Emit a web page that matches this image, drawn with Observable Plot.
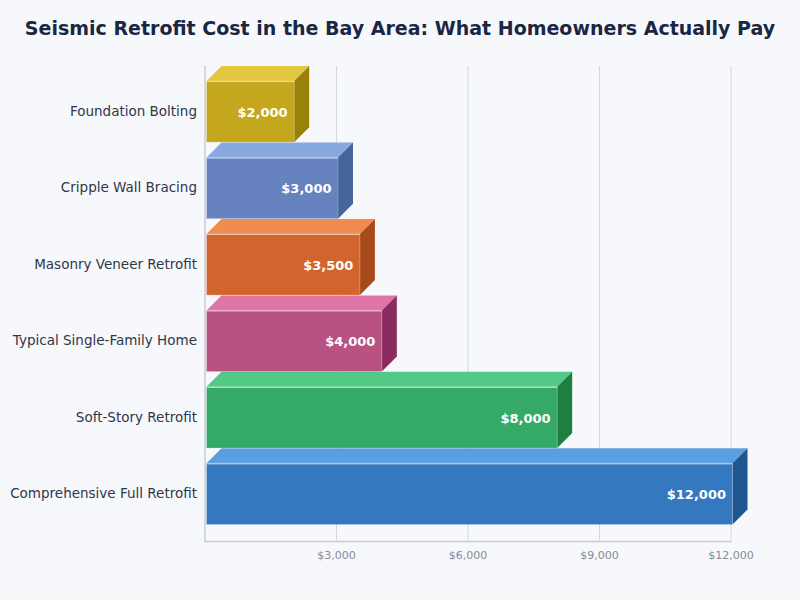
<!DOCTYPE html>
<html>
<head>
<meta charset="utf-8">
<script src="https://cdn.jsdelivr.net/npm/d3@7"></script>
<script src="https://cdn.jsdelivr.net/npm/@observablehq/plot@0.6"></script>
<style>
html,body{margin:0;padding:0;background:#f7f8fc;width:800px;height:600px;overflow:hidden}
#wrap{position:relative;width:800px;height:600px;font-family:"DejaVu Sans",sans-serif}
h1{position:absolute;left:0;top:16px;width:800px;margin:0;text-align:center;font-size:19px;line-height:24px;font-weight:700;color:#1a2744;letter-spacing:0}
</style>
</head>
<body>
<div id="wrap"><h1>Seismic Retrofit Cost in the Bay Area: What Homeowners Actually Pay</h1></div>
<script>
const categories = ["Foundation Bolting","Cripple Wall Bracing","Masonry Veneer Retrofit","Typical Single-Family Home","Soft-Story Retrofit","Comprehensive Full Retrofit"];
const costs = [2000,3000,3500,4000,8000,12000];
const frontColors = ["#c4a71c","#6682bf","#d2652d","#b85283","#35a966","#3478c0"];
const topColors = ["#e3c73f","#8aa8e0","#f08c50","#df75a6","#52c986","#5c9fe0"];
const sideColors = ["#9a8209","#46659a","#a64a1c","#8a2c60","#1f7f42","#1f5590"];
const xTicks = [3000,6000,9000,12000];
const depth = 15, nudge = 2;
const rows = categories.map((name,i)=>({name,cost:costs[i],front:frontColors[i],top:topColors[i],side:sideColors[i]}));

// Turn each bar rectangle drawn by Plot into a face of the box
function face(kind){
  return function(index,scales,values,dims,context,next){
    const g = next(index,scales,values,dims,context);
    d3.select(g).selectAll("rect").each(function(){
      const r = d3.select(this);
      const x=+r.attr("x"), y=+r.attr("y"), w=+r.attr("width"), h=+r.attr("height");
      const pts = kind==="top"
        ? [[x,y],[x+depth,y-depth],[x+w+depth,y-depth],[x+w,y]]
        : [[x+w,y],[x+w+depth,y-depth],[x+w+depth,y+h-depth],[x+w,y+h]];
      const p = document.createElementNS("http://www.w3.org/2000/svg","polygon");
      p.setAttribute("points",pts.join(" "));
      p.setAttribute("fill",r.attr("fill"));
      this.replaceWith(p);
    });
    return g;
  };
}

const chart = Plot.plot({
  width:800,height:600,
  marginTop:66,marginBottom:59,marginLeft:204.5,marginRight:69.5,
  style:{background:"transparent",fontFamily:"DejaVu Sans, sans-serif"},
  x:{domain:[0,12000],range:[204.5,730.5],label:null},
  y:{domain:categories,range:[81,524.5],padding:0.2,paddingOuter:0,round:false,label:null},
  marks:[
    Plot.ruleX(xTicks,{stroke:"#d4d7df",strokeWidth:1}),
    Plot.frame({anchor:"left",stroke:"#c8ccd6",strokeWidth:1.5}),
    Plot.frame({anchor:"bottom",stroke:"#c8ccd6",strokeWidth:1.5}),
    Plot.axisX({ticks:xTicks,tickFormat:d=>"$"+d3.format(",")(d),tickSize:0,tickPadding:10,fontSize:11,color:"#858b98",label:null,anchor:"bottom"}),
    Plot.axisY({tickSize:0,tickPadding:8,fontSize:13.5,dy:-0.5,color:"#2d3748",label:null,anchor:"left"}),
    Plot.barX(rows,{x:"cost",y:"name",fill:d=>d.top,dx:nudge,render:face("top")}),
    Plot.barX(rows,{x:"cost",y:"name",fill:d=>d.side,dx:nudge,render:face("side")}),
    Plot.barX(rows,{x:"cost",y:"name",fill:d=>d.front,stroke:"#ffffff",strokeOpacity:0.2,strokeWidth:1,dx:nudge}),
    Plot.ruleY(rows,{y:"name",x1:0,x2:"cost",dx:nudge,dy:-30.5,stroke:"#ffffff",strokeOpacity:0.6,strokeWidth:1}),
    Plot.text(rows,{x:"cost",y:"name",text:d=>"$"+d3.format(",")(d.cost),textAnchor:"end",dx:-5,dy:0.5,fill:"#ffffff",fontWeight:700,fontSize:13})
  ]
});
document.getElementById("wrap").prepend(chart);
</script>
</body>
</html>
